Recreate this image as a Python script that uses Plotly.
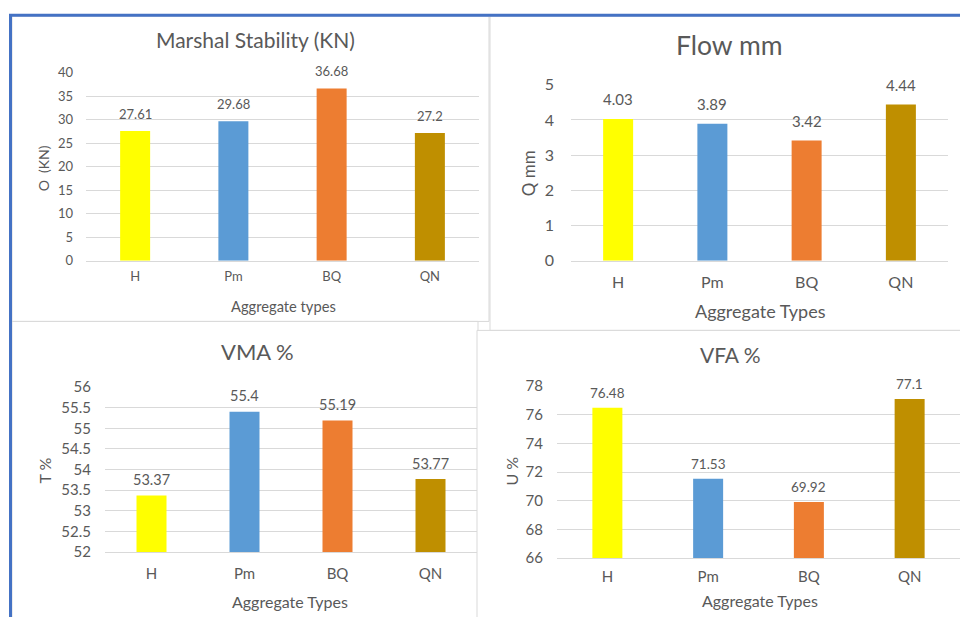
import plotly.graph_objects as go

W, H = 960, 617

categories = ["H", "Pm", "BQ", "QN"]
bar_colors = ["#FFFF00", "#5B9BD5", "#ED7D31", "#BF8F00"]

stability_kn = [27.61, 29.68, 36.68, 27.2]
flow_mm = [4.03, 3.89, 3.42, 4.44]
vma_pct = [53.37, 55.4, 55.19, 53.77]
vfa_pct = [76.48, 71.53, 69.92, 77.1]

TEXT = "#595959"
GRID = "#d9d9d9"
FONT = "Lato"

# the page is displayed with an 8 px band above and below the figure,
# so vertical layout positions are laid out in that displayed frame
V_OFF = 7.8
V_SCALE = H / (H + 16)


def fx(x):
    return x / W


def fy(y):
    return 1 - ((y - V_OFF) / V_SCALE) / H


panels = [
    dict(values=stability_kn, title="Marshal Stability (KN)", xtitle="Aggregate types",
         ytitle="O\u00a0\u00a0(KN)", yrange=[0, 40], dtick=5,
         plot=(86, 479, 71, 260), box=(12, 14, 489, 321),
         title_xy=(255, 37), title_size=21, xt_xy=(283, 305), yt_xy=(43, 167),
         tick_size=13, label_size=13, axis_title_size=14.7, ytitle_size=14,
         label_shift=7, ystand=12, xstand=4),
    dict(values=flow_mm, title="Flow mm", xtitle="Aggregate Types",
         ytitle="Q mm", yrange=[0, 5], dtick=1,
         plot=(571, 948, 83, 260), box=(490, 14, 962, 330),
         title_xy=(729, 43), title_size=26.5, xt_xy=(760, 311), yt_xy=(528, 172),
         tick_size=16, label_size=15, axis_title_size=18, ytitle_size=17,
         label_shift=8.5, ystand=16, xstand=7),
    dict(values=vma_pct, title="VMA %", xtitle="Aggregate Types",
         ytitle="T %", yrange=[52, 56], dtick=0.5,
         plot=(105, 477, 387, 553), box=(12, 321, 478, 640),
         title_xy=(257, 351), title_size=22, xt_xy=(290, 603), yt_xy=(45, 471),
         tick_size=15, label_size=14.5, axis_title_size=16, ytitle_size=16,
         label_shift=5.5, ystand=13, xstand=8),
    dict(values=vfa_pct, title="VFA %", xtitle="Aggregate Types",
         ytitle="U %", yrange=[66, 78], dtick=2,
         plot=(557, 960, 386, 559), box=(477, 330, 962, 640),
         title_xy=(730, 354), title_size=21, xt_xy=(760, 602), yt_xy=(512, 472),
         tick_size=15, label_size=13.5, axis_title_size=16, ytitle_size=16,
         label_shift=4.5, ystand=13, xstand=5),
]

fig = go.Figure()
shapes = []
annotations = []
BAR_PX = 30

for i, p in enumerate(panels, start=1):
    xa = "x" if i == 1 else f"x{i}"
    ya = "y" if i == 1 else f"y{i}"
    x0, x1, ytop, ybot = p["plot"]
    cat_px = (x1 - x0) / len(categories)

    # panel background card
    bx0, by0, bx1, by1 = p["box"]
    shapes.append(dict(type="rect", xref="paper", yref="paper", layer="below",
                       x0=fx(bx0), x1=fx(bx1), y0=fy(by1), y1=fy(by0),
                       fillcolor="white", line=dict(color=GRID, width=1)))

    fig.add_trace(go.Bar(
        x=categories, y=p["values"], marker=dict(color=bar_colors, line=dict(width=0)),
        width=BAR_PX / cat_px, xaxis=xa, yaxis=ya, showlegend=False,
        hoverinfo="x+y",
    ))

    fig.update_layout(**{
        ("xaxis" if i == 1 else f"xaxis{i}"): dict(
            domain=[fx(x0), fx(x1)], anchor=ya, range=[-0.5, 3.5],
            showgrid=False, showline=True, linecolor=GRID, linewidth=1,
            ticks="", tickfont=dict(family=FONT, size=p["tick_size"], color=TEXT),
            ticklabelstandoff=p["xstand"], fixedrange=True,
        ),
        ("yaxis" if i == 1 else f"yaxis{i}"): dict(
            domain=[fy(ybot), fy(ytop)], anchor=xa, range=p["yrange"],
            dtick=p["dtick"], tick0=p["yrange"][0], showgrid=True, gridcolor=GRID,
            gridwidth=1, zeroline=False, showline=False, ticks="",
            tickfont=dict(family=FONT, size=p["tick_size"], color=TEXT),
            ticklabelstandoff=p["ystand"], fixedrange=True,
        ),
    })

    # value labels above each bar
    for c, v in zip(categories, p["values"]):
        annotations.append(dict(
            x=c, y=v, xref=xa, yref=ya, text=f"{v:g}", showarrow=False,
            yanchor="bottom", yshift=p["label_shift"],
            font=dict(family=FONT, size=p["label_size"], color=TEXT),
        ))

    tx, ty = p["title_xy"]
    annotations.append(dict(x=fx(tx), y=fy(ty), xref="paper", yref="paper",
                            text=p["title"], showarrow=False,
                            xanchor="center", yanchor="middle",
                            font=dict(family=FONT, size=p["title_size"], color=TEXT)))
    ax, ay = p["xt_xy"]
    annotations.append(dict(x=fx(ax), y=fy(ay), xref="paper", yref="paper",
                            text=p["xtitle"], showarrow=False,
                            xanchor="center", yanchor="middle",
                            font=dict(family=FONT, size=p["axis_title_size"], color=TEXT)))
    yx, yy = p["yt_xy"]
    annotations.append(dict(x=fx(yx), y=fy(yy), xref="paper", yref="paper",
                            text=p["ytitle"], showarrow=False, textangle=-90,
                            xanchor="center", yanchor="middle",
                            font=dict(family=FONT, size=p["ytitle_size"], color=TEXT)))

# blue frame along the top and left edges
BLUE = "#4472C4"
shapes.append(dict(type="line", xref="paper", yref="paper", layer="above",
                   x0=fx(9), x1=1, y0=fy(13), y1=fy(13),
                   line=dict(color=BLUE, width=3)))
shapes.append(dict(type="line", xref="paper", yref="paper", layer="above",
                   x0=fx(10.5), x1=fx(10.5), y0=fy(12), y1=fy(640),
                   line=dict(color=BLUE, width=3)))

fig.update_layout(
    width=W, height=H, autosize=False, margin=dict(l=0, r=0, t=0, b=0),
    paper_bgcolor="white", plot_bgcolor="rgba(0,0,0,0)",
    font=dict(family=FONT, color=TEXT),
    shapes=shapes, annotations=annotations, bargap=0.7,
)

fig.write_html("out.html", config=dict(displayModeBar=False, responsive=False))
